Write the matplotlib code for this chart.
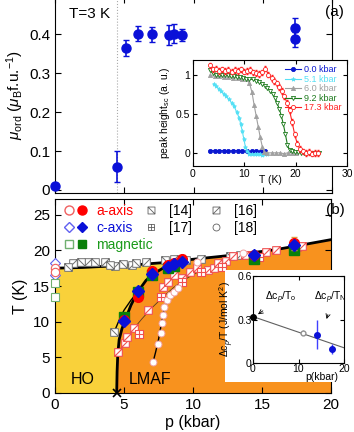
import matplotlib
matplotlib.use('Agg')
from matplotlib import pyplot as plt
from matplotlib.path import Path
from matplotlib.patches import Rectangle
from matplotlib.legend_handler import HandlerTuple
from matplotlib.lines import Line2D
import numpy as np

plt.rcParams['font.family'] = ['Liberation Sans', 'DejaVu Sans']
plt.rcParams['mathtext.fontset'] = 'custom'
plt.rcParams['mathtext.rm'] = 'Liberation Sans'
plt.rcParams['mathtext.it'] = 'Liberation Sans:italic'
plt.rcParams['xtick.direction'] = 'in'
plt.rcParams['ytick.direction'] = 'in'

# ---- panel (a): ordered moment at T=3 K
mu_p = [0.0, 4.5, 5.1, 6.0, 7.0, 8.2, 8.6, 9.2, 17.3, 17.3]
mu_val = [0.01, 0.06, 0.365, 0.402, 0.400, 0.398, 0.402, 0.399, 0.417, 0.387]
mu_err = [0.0, 0.04, 0.02, 0.02, 0.02, 0.025, 0.025, 0.015, 0.025, 0.02]

# ---- inset (a): peak height vs T
curves = {
    '0.0 kbar': ([3.3, 4.2, 5.1, 6.0, 6.9, 7.8, 8.7, 9.6, 10.5, 11.4, 12.3, 13.2, 14.1],
                 [0.03, 0.03, 0.03, 0.03, 0.02, 0.03, 0.03, 0.02, 0.02, 0.02, 0.02, 0.02, 0.02]),
    '5.1 kbar': ([4.0, 4.5, 5.0, 5.5, 6.0, 6.5, 7.0, 7.5, 8.0, 8.5, 9.0, 9.3, 9.6, 9.9, 10.2,
                  10.6, 11.0, 11.5, 12.0, 12.5, 13.0, 13.5, 14.0, 14.5],
                 [0.89, 0.86, 0.83, 0.80, 0.76, 0.73, 0.69, 0.65, 0.60, 0.53, 0.45, 0.37, 0.28,
                  0.18, 0.08, 0.02, -0.01, -0.02, -0.02, -0.01, -0.02, -0.03, -0.02, -0.02]),
    '6.0 kbar': ([3.3, 4.2, 5.1, 6.0, 6.9, 7.8, 8.7, 9.6, 10.5, 11.0, 11.5, 11.9, 12.3, 12.7,
                  13.1, 13.5, 13.9, 14.5, 15.3, 16.1, 16.9, 17.7, 18.5, 19.3, 20.0],
                 [1.00, 0.99, 0.99, 0.98, 0.98, 0.97, 0.97, 0.96, 0.95, 0.90, 0.78, 0.62, 0.48,
                  0.34, 0.20, 0.08, 0.01, 0.0, 0.0, 0.0, 0.0, -0.01, 0.0, 0.0, 0.0]),
    '9.2 kbar': ([3.3, 3.8, 4.4, 5.0, 5.6, 6.2, 6.8, 7.4, 8.0, 8.6, 9.2, 9.8, 10.4, 11.0, 11.6,
                  12.2, 12.8, 13.4, 14.0, 14.5, 15.0, 15.5, 16.0, 16.4, 16.8, 17.2, 17.6, 18.0,
                  18.4, 18.8, 19.3, 19.8, 20.4, 21.0, 21.6, 22.2, 22.8, 23.4, 24.0, 24.6],
                 [1.07, 1.03, 1.01, 1.01, 1.00, 1.01, 1.00, 0.99, 0.99, 0.98, 0.98, 0.97, 0.96,
                  0.95, 0.95, 0.93, 0.91, 0.89, 0.87, 0.84, 0.80, 0.76, 0.71, 0.64, 0.57, 0.48,
                  0.37, 0.24, 0.10, 0.04, 0.02, 0.01, 0.01, 0.0, 0.0, 0.0, 0.0, 0.0, 0.0, 0.0]),
    '17.3 kbar': ([3.3, 3.9, 4.5, 5.1, 5.7, 6.3, 6.9, 7.5, 8.1, 8.7, 9.3, 9.9, 10.5, 11.1,
                   11.7, 12.3, 12.9, 13.5, 14.1, 14.7, 15.3, 15.8, 16.3, 16.8, 17.3, 17.8,
                   18.3, 18.8, 19.3, 19.8, 20.3, 20.8, 21.4, 22.0, 22.6, 23.2, 23.8, 24.4],
                  [1.13, 1.08, 1.09, 1.06, 1.08, 1.06, 1.07, 1.05, 1.07, 1.06, 1.08, 1.05, 1.06,
                   1.07, 1.04, 1.03, 1.02, 1.04, 1.09, 1.01, 0.97, 0.93, 0.90, 0.85, 0.80, 0.73,
                   0.65, 0.55, 0.40, 0.24, 0.12, 0.05, 0.02, 0.0, 0.01, -0.01, 0.0, 0.0]),
}
curve_styles = {
    '0.0 kbar': dict(color='#0a18d0', marker='o', mfc='#0a18d0'),
    '5.1 kbar': dict(color='#55e0f5', marker='*', mfc='#55e0f5'),
    '6.0 kbar': dict(color='#a0a0a0', marker='^', mfc='#a0a0a0'),
    '9.2 kbar': dict(color='#1c7a1c', marker='v', mfc='white'),
    '17.3 kbar': dict(color='#ff2020', marker='o', mfc='white'),
}

# ---- panel (b): phase diagram
upper_p = [0, 2, 4, 6, 8, 10, 12, 14, 16, 18, 20]
upper_T = [17.5, 17.6, 17.8, 18.0, 18.3, 18.75, 19.15, 19.6, 20.1, 20.8, 21.5]
ho_p = [4.47, 4.5, 4.55, 4.65, 4.85, 5.1, 5.5, 6.0, 6.6, 7.3, 8.0, 8.7, 9.3]
ho_T = [0.0, 3.0, 5.5, 7.5, 9.0, 10.3, 12.3, 14.2, 15.8, 16.9, 17.7, 18.2, 18.6]
b2_p = [4.3, 4.6, 5.0, 5.5, 6.0]
b2_T = [8.6, 10.0, 11.6, 13.0, 14.2]
thin_p = [4.7, 5.2, 5.7, 6.3, 7.0, 7.8, 8.6, 9.4, 10.2, 11.0]
thin_T = [6.0, 7.6, 9.0, 10.4, 11.9, 13.4, 14.8, 15.9, 16.8, 17.4]
circ_line_p = [7.1, 7.3, 7.5, 7.7, 7.9, 8.2, 8.6, 9.0]
circ_line_T = [4.3, 5.8, 7.5, 9.6, 11.7, 13.1, 14.2, 14.9]

# this work
a_open_T = [17.5, 16.9]
c_open_T = [18.2, 16.5]
m_open_T = [15.4, 13.5]
work_p = [5.0, 6.0, 7.0, 8.2, 8.6, 9.2, 14.4, 17.3]
a_T = [10.3, 13.5, 17.1, 17.9, 18.2, 18.8, 19.4, 21.0]
c_T = [10.1, 14.3, 16.7, 17.7, 18.1, 18.3, 19.4, 20.7]
m_p = [5.0, 6.0, 7.0, 8.2, 8.6, 14.4, 17.3]
m_T = [10.7, 14.2, 16.5, 17.5, 17.8, 18.8, 20.1]

# references
ref14_p = [0.97, 1.9, 2.9, 4.0, 4.95, 5.9, 7.98, 9.5, 12.7, 4.3]
ref14_T = [17.7, 18.3, 18.3, 17.9, 18.1, 18.2, 18.6, 18.6, 19.2, 8.6]
ref16g_p = [1.3, 2.4, 3.6, 4.35, 5.6, 6.6, 8.6, 10.6, 13.4]
ref16g_T = [18.2, 18.4, 18.4, 17.8, 17.9, 18.4, 18.8, 18.8, 19.4]
ref16_p = [4.59, 5.07, 5.2, 5.7, 6.76, 7.85, 8.2, 8.6, 9.2, 9.8, 10.3, 11.1, 11.5,
           11.8, 12.4, 12.9, 13.8, 15.3, 16.0, 17.5, 17.9]
ref16_T = [5.8, 7.0, 7.8, 9.1, 11.7, 14.8, 15.6, 16.6, 16.1, 17.0, 17.5, 17.2, 17.5,
           18.2, 18.5, 19.2, 19.4, 19.8, 20.0, 20.5, 20.6]
ref17_p = [6.1, 7.7, 9.2, 10.6, 12.1, 14.8]
ref17_T = [8.3, 13.5, 15.6, 17.0, 17.7, 19.0]
ref18_p = [7.12, 7.49, 7.65, 7.72, 7.8, 7.9, 8.1, 8.3, 8.6, 8.9, 10.3, 13.6]
ref18_T = [4.3, 6.9, 8.4, 9.8, 10.9, 12.1, 13.0, 13.7, 14.2, 14.7, 18.4, 19.6]

# ---- inset (b): specific heat jump
cp_line_p = [0, 20]
cp_line_v = [0.32, 0.105]
cp_p = [14.0, 17.3]
cp_v = [0.195, 0.096]
cp_err = [0.1, 0.035]

C, M, L = Path.CLOSEPOLY, Path.MOVETO, Path.LINETO
sq = [(-1, -1), (1, -1), (1, 1), (-1, 1), (-1, -1)]
sq_codes = [M, L, L, L, C]
mk_back = Path(sq + [(-1, 1), (1, -1)], sq_codes + [M, L])
mk_fwd = Path(sq + [(-1, -1), (1, 1)], sq_codes + [M, L])
mk_plus = Path(sq + [(0, -1), (0, 1), (-1, 0), (1, 0)], sq_codes + [M, L, M, L])

RED = '#ff0000'
BLUE = '#0a10d8'
GREEN = '#0a800a'
YEL = '#f9d13a'
ORA = '#f8921e'

fig = plt.figure(figsize=(3.54, 4.32), dpi=100)

# ================= panel (a)
ax1 = fig.add_axes([55/354, 1 - 193/432, 277/354, 193/432 + 0.006])
ax1.errorbar(mu_p, mu_val, yerr=mu_err, fmt='o', color=BLUE, ms=6.5, capsize=2,
             elinewidth=1.2, capthick=1, clip_on=False, zorder=3)
ax1.axvline(4.5, color='#aaaaaa', ls=':', lw=0.8)
ax1.set_xlim(0, 20)
ax1.set_ylim(-0.008, 0.495)
ax1.set_xticks([0, 5, 10, 15, 20])
ax1.set_xticklabels([])
ax1.set_yticks([0, 0.1, 0.2, 0.3, 0.4])
ax1.set_yticklabels(['0', '0.1', '0.2', '0.3', '0.4'])
ax1.tick_params(labelsize=11, top=True, right=True, length=4)
ax1.set_ylabel(r'$\mu_{\rm ord}$ ($\mu_{\rm B}$f.u.$^{-1}$)', fontsize=11, labelpad=2)
ax1.text(0.05, 0.895, 'T=3 K', transform=ax1.transAxes, fontsize=11)
fig.text(0.946, 0.972, '(a)', fontsize=11, ha='center', va='center')

# inset (a)
axi = fig.add_axes([193/354, 1 - 166/432, 154/354, 106/432])
for lab, (tt, hh) in curves.items():
    st = curve_styles[lab]
    if lab == '17.3 kbar':
        axi.errorbar(tt, hh, yerr=0.035, color=st['color'], lw=0.7, elinewidth=0.5,
                     capsize=1, fmt='none')
    axi.plot(tt, hh, color=st['color'], marker=st['marker'], mfc=st['mfc'],
             mec=st['color'], ms=3, lw=0.8, mew=0.6, label=lab)
axi.set_xlim(0, 30)
axi.set_ylim(-0.17, 1.2)
axi.set_xticks([0, 10, 20, 30])
axi.set_yticks([0, 0.5, 1])
axi.set_yticklabels(['0', '0.5', '1'])
axi.tick_params(labelsize=7.5, top=True, right=True, length=3, pad=2)
axi.set_xlabel('T (K)', fontsize=7.5, labelpad=-3)
axi.set_ylabel(r'peak height$_{\rm sc}$ (a. u.)', fontsize=7.5, labelpad=3)
leg = axi.legend(loc='upper right', fontsize=6.5, frameon=False, handlelength=1.8,
                 handletextpad=0.3, labelspacing=0.05, borderaxespad=0.2)
for txt, lab in zip(leg.get_texts(), curves):
    txt.set_color(curve_styles[lab]['color'])

# ================= panel (b)
ax2 = fig.add_axes([55/354, 1 - 393/432, 276/354, 194/432])
up = np.array(upper_T)
ax2.fill_between(upper_p, 0, up, color=ORA, lw=0, zorder=0)
# yellow: along upper line to the merge point, back down the HO boundary
ip = np.interp(ho_T[-1], upper_T, upper_p)
yp = list(np.array(upper_p)[np.array(upper_p) < ip]) + [ip] + ho_p[::-1] + [0]
yT = list(up[np.array(upper_p) < ip]) + [ho_T[-1]] + ho_T[::-1] + [0]
ax2.fill(yp, yT, color=YEL, lw=0, zorder=0)

ax2.plot(upper_p, upper_T, color='k', lw=2, zorder=2)
ax2.plot(ho_p, ho_T, color='k', lw=2, zorder=2)
ax2.plot(b2_p, b2_T, color='k', lw=1, zorder=2)
ax2.plot(thin_p, thin_T, color='#5a3a20', lw=0.6, zorder=2)
ax2.plot(circ_line_p, circ_line_T, color='k', lw=1, zorder=2)
ax2.plot([4.5], [0], marker='x', color='k', ms=6, mew=1.2, clip_on=False, zorder=6)

ref_ms = 5.5
ax2.plot(ref16g_p, ref16g_T, ls='none', marker=mk_fwd, ms=ref_ms, mfc='white',
         mec='#707070', mew=0.7, zorder=3)
ax2.plot(ref14_p, ref14_T, ls='none', marker=mk_back, ms=ref_ms, mfc='white',
         mec='#707070', mew=0.7, zorder=3)
ax2.plot(ref16_p, ref16_T, ls='none', marker=mk_fwd, ms=ref_ms, mfc='white',
         mec='#f05050', mew=0.8, zorder=3)
ax2.plot(ref17_p, ref17_T, ls='none', marker=mk_plus, ms=ref_ms, mfc='white',
         mec='#f05050', mew=0.8, zorder=3)
ax2.plot(ref18_p, ref18_T, ls='none', marker='o', ms=5, mfc='white',
         mec='#f0a0a0', mew=0.7, zorder=3)

p0 = [0] * 2
ax2.plot(p0, c_open_T, ls='none', marker='D', ms=5.5, mfc='white', mec='#6060f0', mew=0.8,
         clip_on=False, zorder=4)
ax2.plot(p0, a_open_T, ls='none', marker='o', ms=6, mfc='white', mec='#f06060', mew=0.8,
         clip_on=False, zorder=4)
ax2.plot(p0, m_open_T, ls='none', marker='s', ms=6, mfc='white', mec='#70b070', mew=0.8,
         clip_on=False, zorder=4)
ax2.plot(m_p, m_T, ls='none', marker='s', ms=6.5, color=GREEN, zorder=4)
ax2.errorbar(work_p, a_T, yerr=[0, 0, 0, 0, 0, 0.6, 0, 0.9], fmt='o', ms=7, color=RED,
             ecolor='#e0a040', elinewidth=0.8, capsize=2, zorder=5)
ax2.plot(work_p, c_T, ls='none', marker='D', ms=6, color=BLUE, zorder=6)

ax2.text(2.0, 1.9, 'HO', fontsize=11.5, ha='center', va='center')
ax2.text(6.9, 1.9, 'LMAF', fontsize=11.5, ha='center', va='center')
ax2.set_xlim(0, 20)
ax2.set_ylim(0, 27.2)
ax2.set_xticks([0, 5, 10, 15, 20])
ax2.set_yticks([0, 5, 10, 15, 20, 25])
ax2.tick_params(labelsize=11, top=True, right=True, length=4)
ax2.set_xlabel('p (kbar)', fontsize=11.5, labelpad=2)
ax2.set_ylabel('T (K)', fontsize=11.5, labelpad=4)
fig.text(0.946, 0.514, '(b)', fontsize=11, ha='center', va='center')

# legends
h_a = (Line2D([], [], ls='none', marker='o', ms=6.5, mfc='white', mec='#f06060'),
       Line2D([], [], ls='none', marker='o', ms=6.5, color=RED))
h_c = (Line2D([], [], ls='none', marker='D', ms=5.5, mfc='white', mec='#6060f0'),
       Line2D([], [], ls='none', marker='D', ms=5.5, color=BLUE))
h_m = (Line2D([], [], ls='none', marker='s', ms=6, mfc='white', mec='#70b070'),
       Line2D([], [], ls='none', marker='s', ms=6, color=GREEN))
leg1 = ax2.legend([h_a, h_c, h_m], ['a-axis', 'c-axis', 'magnetic'],
                  handler_map={tuple: HandlerTuple(ndivide=None, pad=0.2)},
                  loc='upper left', bbox_to_anchor=(0.0, 1.02), frameon=False, fontsize=10,
                  handlelength=1.7, handletextpad=0.6, labelspacing=0.2, borderaxespad=0.25)
for txt, col in zip(leg1.get_texts(), [RED, BLUE, '#1a9a1a']):
    txt.set_color(col)
ax2.add_artist(leg1)
rh = [Line2D([], [], ls='none', marker=mk_back, ms=5, mfc='white', mec='#606060', mew=0.6),
      Line2D([], [], ls='none', marker=mk_plus, ms=5, mfc='white', mec='#606060', mew=0.6),
      Line2D([], [], ls='none', marker=mk_fwd, ms=5, mfc='white', mec='#606060', mew=0.6),
      Line2D([], [], ls='none', marker='o', ms=5, mfc='white', mec='#606060', mew=0.6)]
ax2.legend(rh, ['[14]', '[17]', '[16]', '[18]'], ncol=2, loc='upper left',
           bbox_to_anchor=(0.29, 1.02), frameon=False, fontsize=10, handlelength=1.0,
           handletextpad=0.8, labelspacing=0.2, columnspacing=1.2, borderaxespad=0.25)

# white box behind inset (b)
ax2.add_patch(Rectangle((225/354, 1 - 382/432), 119/354, 112/432, transform=fig.transFigure,
                        facecolor='white', edgecolor='none', clip_on=False, zorder=7))

# inset (b)
axc = fig.add_axes([253/354, 1 - 363/432, 91/354, 87/432])
axc.plot(cp_line_p, cp_line_v, color='#606060', lw=0.8)
axc.plot([0], [0.315], marker='o', color='k', ms=4, clip_on=False)
axc.errorbar([11.0], [0.21], yerr=0.02, fmt='o', ms=3.5, mfc='white', mec='#909090',
             ecolor='#909090', elinewidth=0.6)
axc.errorbar(cp_p, cp_v, yerr=cp_err, fmt='o', ms=4, color=BLUE, ecolor='#4040ff',
             elinewidth=1.0)
axc.set_xlim(0, 20)
axc.set_ylim(0, 0.6)
axc.set_xticks([0, 10, 20])
axc.set_yticks([0, 0.3, 0.6])
axc.set_yticklabels(['0', '0.3', '0.6'])
axc.tick_params(labelsize=7.5, top=True, right=True, length=3, pad=1)
axc.set_ylabel(r'$\Delta$c$_p$/T (J/mol K$^2$)', fontsize=7.5, labelpad=1)
axc.text(0.76, -0.1, 'p(kbar)', transform=axc.transAxes, fontsize=7.5, ha='center', va='top')
axc.annotate(r'$\Delta$c$_p$/T$_{\rm o}$', xy=(0.6, 0.325), xytext=(2.6, 0.43),
             fontsize=7.5, arrowprops=dict(arrowstyle='->', lw=0.6, color='k'))
axc.annotate(r'$\Delta$c$_p$/T$_{\rm N}$', xy=(16, 0.285), xytext=(13.4, 0.43),
             fontsize=7.5, arrowprops=dict(arrowstyle='->', lw=0.6, color='k',
                                            shrinkA=4, relpos=(0.5, 0)))

fig.savefig('out.png', dpi=100)
